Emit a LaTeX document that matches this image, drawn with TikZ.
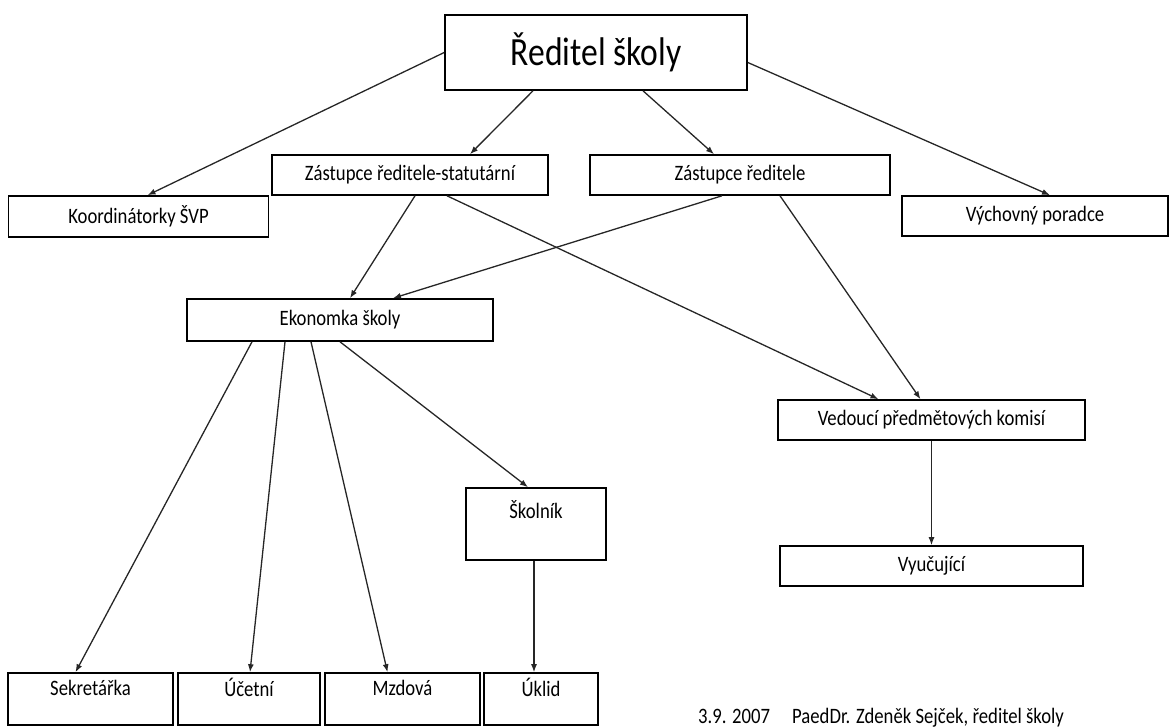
\documentclass[tikz,border=0pt]{standalone}
\usepackage{fontspec}
\setmainfont[FakeStretch=0.85]{Carlito}
\newfontfamily\headfont[FakeStretch=0.84]{Carlito}
\usetikzlibrary{arrows.meta}
\tikzset{
  x=1pt, y=-1pt,
  orgbox/.style={draw=black, line width=1.6pt, fill=white, inner sep=0pt,
    font=\fontsize{22}{25}\selectfont, align=center},
  link/.style={line width=1.3pt, draw=black!85, -{Latex[length=8pt,width=6pt]}},
}
\begin{document}
\begin{tikzpicture}
\useasboundingbox (0,0) rectangle (1170,728);
\clip (0,0) rectangle (1170,728);

% top level
\node[orgbox, minimum width=302pt, minimum height=75pt, font=\headfont\fontsize{40}{46}\selectfont]
  (red) at (596,52.5) {Ředitel školy};

% second level
\node[orgbox, minimum width=276pt, minimum height=40pt] (zst) at (410,175) {Zástupce ředitele-statutární};
\node[orgbox, minimum width=300pt, minimum height=40pt] (zr)  at (740,175) {Zástupce ředitele};
\node[orgbox, minimum width=260pt, minimum height=41pt] (koo) at (138.5,216.5) {Koordinátorky ŠVP};
\node[orgbox, minimum width=266pt, minimum height=40pt] (vych) at (1035,216) {Výchovný poradce};

% middle level
\node[orgbox, minimum width=306pt, minimum height=42pt] (ekon) at (340,320) {Ekonomka školy};
\node[orgbox, minimum width=307pt, minimum height=40pt] (ved) at (931.5,420) {Vedoucí předmětových komisí};
\node[orgbox, minimum width=303pt, minimum height=40pt] (vyu) at (931.5,566) {Vyučující};
\node[orgbox, minimum width=140pt, minimum height=72pt] (skol) at (536,524) {Školník\\[4pt]\mbox{}};

% bottom row
\node[orgbox, minimum width=165pt, minimum height=52pt] (sek) at (90.5,699) {Sekretářka\\[-2pt]\mbox{}};
\node[orgbox, minimum width=142pt, minimum height=52pt] (uc)  at (249,699) {Účetní\\[-2pt]\mbox{}};
\node[orgbox, minimum width=155pt, minimum height=52pt] (mz)  at (402.5,699) {Mzdová\\[-2pt]\mbox{}};
\node[orgbox, minimum width=114pt, minimum height=52pt] (ukl) at (541,699) {Úklid\\[-2pt]\mbox{}};

% footer
\node[anchor=base west, inner sep=0pt, font=\fontsize{22}{25}\selectfont] (foot) at (698,723)
  {3.9. 2007\hspace{22pt}PaedDr. Zdeněk Sejček, ředitel školy};

% connectors
\draw[link] (red.west) -- ([xshift=9pt]koo.north);
\draw[link] ([xshift=-63pt]red.south) -- ([xshift=60pt]zst.north);
\draw[link] ([xshift=47pt]red.south) -- ([xshift=-26pt]zr.north);
\draw[link] ([yshift=-10pt]red.east) -- ([xshift=15pt]vych.north);

\draw[link] ([xshift=5pt]zst.south) -- ([xshift=10pt]ekon.north);
\draw[link] ([xshift=37pt]zst.south) -- ([xshift=-53pt]ved.north);
\draw[link] ([xshift=-18pt]zr.south) -- ([xshift=53pt]ekon.north);
\draw[link] ([xshift=40pt]zr.south) -- ([xshift=-11pt]ved.north);

\draw[link] ([xshift=-88pt]ekon.south) -- ([xshift=-15pt]sek.north);
\draw[link] ([xshift=-55pt]ekon.south) -- ([xshift=1pt]uc.north);
\draw[link] ([xshift=-29pt]ekon.south) -- ([xshift=-15pt]mz.north);
\draw[link] (ekon.south) -- ([xshift=-8pt]skol.north);
\draw[link] ([xshift=-2pt]skol.south) -- ([xshift=-7pt]ukl.north);

\draw[link] (ved.south) -- (vyu.north);
\end{tikzpicture}
\end{document}
